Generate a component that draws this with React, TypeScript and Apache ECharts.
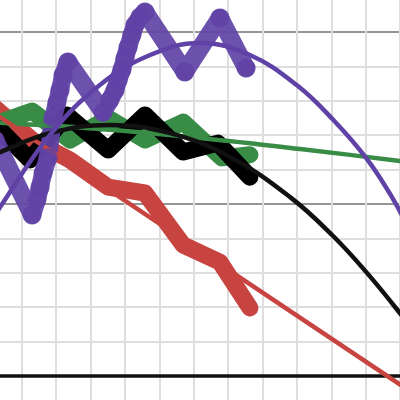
import React, { useEffect, useRef } from "react";
import * as echarts from "echarts";

// Thick zig-zag data series (x, y in graph units)
const purplePoints: number[][] = [
  [1.22, 6.86], [2.3, 4.68], [2.44, 5.12], [2.53, 5.49], [2.62, 5.9], [2.76, 6.34],
  [2.91, 7.5], [3.02, 7.94], [3.11, 8.31], [3.2, 8.75], [3.34, 9.13], [4.36, 7.67],
  [4.56, 8.02], [4.71, 8.31], [4.8, 8.6], [4.91, 8.9], [5.0, 9.24], [5.09, 9.56],
  [5.2, 9.91], [5.29, 10.2], [5.44, 10.44], [5.58, 10.58], [6.74, 8.84], [7.76, 10.41],
  [8.52, 8.95],
];
const greenPoints: number[][] = [
  [1.22, 7.33], [2.3, 7.7], [3.4, 6.86], [4.51, 7.5], [5.58, 6.86], [6.69, 7.38], [7.82, 6.34], [8.63, 6.43],
];
const blackPoints: number[][] = [
  [1.22, 7.3], [2.24, 6.28], [3.31, 7.59], [4.51, 6.57], [5.58, 7.59], [6.69, 6.51], [7.7, 6.77], [8.63, 5.78],
];
const redPoints: number[][] = [
  [1.22, 7.79], [2.3, 6.86], [3.4, 6.28], [4.51, 5.49], [5.58, 5.32], [6.69, 3.81], [7.76, 3.31], [8.63, 1.98],
];

// Fitted curves
const purpleFit: number[][] = [
  [1.0, 4.3], [1.37, 4.91], [2.82, 7.01], [4.27, 8.46], [5.73, 9.33], [7.18, 9.68],
  [8.63, 9.33], [10.0, 8.45], [11.05, 7.45], [12.04, 6.3], [12.76, 5.2], [13.29, 4.2],
];
const greenFit: number[][] = [
  [1.0, 7.38], [1.37, 7.36], [4.27, 7.18], [7.18, 6.92], [10.09, 6.6], [12.99, 6.25], [13.6, 6.17],
];
const blackFit: number[][] = [
  [1.0, 6.34], [1.37, 6.51], [2.82, 7.06], [4.56, 7.3], [6.31, 7.06], [8.05, 6.37],
  [9.8, 5.2], [11.05, 4.07], [12.04, 2.99], [12.99, 1.83], [13.5, 1.15],
];
const redFit: number[][] = [[1.0, 7.77], [13.6, -0.65]];

const PURPLE = "#6042a6";
const GREEN = "#388c46";
const RED = "#c74440";
const BLACK = "#000000";

const hiddenAxis = {
  axisLabel: { show: false },
  axisTick: { show: false },
  axisLine: { show: false },
};

export default function App() {
  const ref = useRef<HTMLDivElement>(null);
  useEffect(() => {
    if (!ref.current) return;
    const chart = echarts.init(ref.current, undefined, { renderer: "svg" });
    const thick = (name: string, data: number[][], color: string, width: number) => ({
      name,
      type: "line",
      data,
      showSymbol: false,
      symbol: "none",
      lineStyle: { color, width, cap: "round", join: "round" },
      itemStyle: { color },
      silent: true,
    });
    const thin = (name: string, data: number[][], color: string) => ({
      name,
      type: "line",
      data,
      smooth: 0.4,
      showSymbol: false,
      symbol: "none",
      lineStyle: { color, width: 4.5, cap: "round" },
      itemStyle: { color },
      silent: true,
      z: 3,
    });
    chart.setOption({
      animation: false,
      backgroundColor: "#ffffff",
      grid: { left: 0, right: 0, top: 0, bottom: 0, containLabel: false },
      xAxis: [
        {
          type: "value", min: 0, max: 15, interval: 1, z: 1,
          axisLabel: { show: false }, axisTick: { show: false },
          axisLine: { show: true, onZero: true, lineStyle: { color: "#111", width: 3.5 } },
          splitLine: { show: true, lineStyle: { color: "#dedede", width: 2 } },
        },
        {
          type: "value", min: 0, max: 15, interval: 5, position: "top", z: 0,
          ...hiddenAxis,
          splitLine: { show: true, lineStyle: { color: "#959595", width: 2 } },
        },
      ],
      yAxis: [
        {
          type: "value", min: -5, max: 15, interval: 1, z: 0,
          ...hiddenAxis,
          splitLine: { show: true, lineStyle: { color: "#dedede", width: 2 } },
        },
        {
          type: "value", min: -5, max: 15, interval: 5, position: "right", z: 0,
          ...hiddenAxis,
          splitLine: { show: true, lineStyle: { color: "#959595", width: 2 } },
        },
      ],
      series: [
        thick("red data", redPoints, RED, 17),
        thick("green data", greenPoints, GREEN, 17),
        thick("black data", blackPoints, BLACK, 17),
        {
          name: "purple data",
          type: "line",
          data: purplePoints,
          showSymbol: true,
          symbol: "circle",
          symbolSize: 19,
          lineStyle: { color: PURPLE, width: 18, cap: "round", join: "round", opacity: 0.92 },
          itemStyle: { color: PURPLE, opacity: 0.85 },
          silent: true,
        },
        thin("green fit", greenFit, GREEN),
        thin("red fit", redFit, RED),
        thin("black fit", blackFit, "#111111"),
        thin("purple fit", purpleFit, PURPLE),
      ],
    });
    return () => chart.dispose();
  }, []);
  return (
    <div style={{ position: "fixed", left: 0, top: 0, width: 400, height: 400, overflow: "hidden", background: "#fff" }}>
      <div ref={ref} style={{ position: "absolute", left: -47, top: -140, width: 516, height: 688 }} />
    </div>
  );
}
